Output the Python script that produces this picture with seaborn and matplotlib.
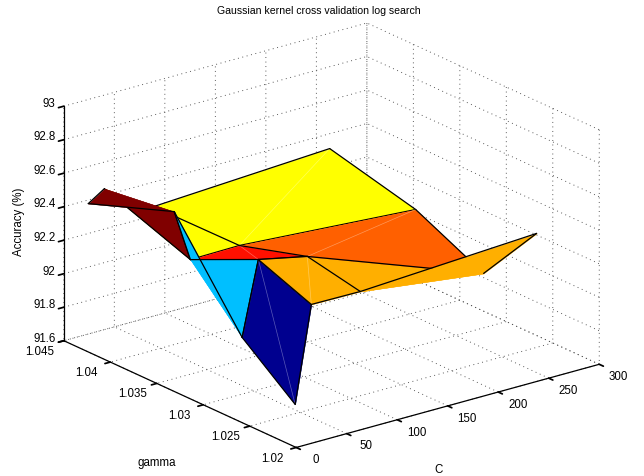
import numpy as np
import matplotlib
matplotlib.use("Agg")
import matplotlib.pyplot as plt
from matplotlib.colors import LinearSegmentedColormap
from matplotlib.transforms import Affine2D
from mpl_toolkits.mplot3d.art3d import Poly3DCollection
import seaborn as sns

sns.set_theme(style="white", rc={'text.color': 'black', 'axes.labelcolor': 'black',
                                 'xtick.color': 'black', 'ytick.color': 'black',
                                 'axes.edgecolor': 'black'})
plt.rcParams['font.family'] = ['Liberation Sans', 'DejaVu Sans']
plt.rcParams['grid.linestyle'] = (0, (1, 4))
plt.rcParams['grid.color'] = '#444444'
plt.rcParams['grid.linewidth'] = 0.65

C_values = [1, 17, 65.5, 240]
gamma_values = [1.02022, 1.02592, 1.03323, 1.04248]
acc_row0 = [91.850, 92.420, 92.417, 92.475]
acc_row1 = [92.104, 92.543, 92.481, 92.091]
acc_row2 = [92.669, 92.356, 92.360, 92.286]
acc_row3 = [92.481, 92.544, 92.356, 92.414]
C_ticks = [0, 50, 100, 150, 200, 250, 300]
gamma_ticks = [1.02, 1.025, 1.03, 1.035, 1.04, 1.045]
gamma_labels = ['1.02', '1.025', '1.03', '1.035', '1.04', '1.045']
acc_ticks = [91.6, 91.8, 92, 92.2, 92.4, 92.6, 92.8, 93]
acc_labels = ['91.6', '91.8', '92', '92.2', '92.4', '92.6', '92.8', '93']

Z = np.array([acc_row0, acc_row1, acc_row2, acc_row3])
jet = LinearSegmentedColormap.from_list('mjet', [
    (0, (0, 0, .5625)), (7/63, (0, 0, 1)), (23/63, (0, 1, 1)),
    (39/63, (1, 1, 0)), (55/63, (1, 0, 0)), (1, (.5, 0, 0))], N=64)


def col(i, j):
    return jet((Z[i, j] - Z.min()) / (Z.max() - Z.min()))


def P(ij):
    i, j = ij
    return (C_values[j], gamma_values[i], Z[i, j])


fig = plt.figure(figsize=(6.44, 4.77), dpi=100)
ax = fig.add_axes([0.0013, -0.1885, 1, 1.35], projection='3d', proj_type='ortho',
                  computed_zorder=False)
ax.view_init(elev=20.8, azim=-127.7)
ax.set_box_aspect((1, 0.992, 0.655), zoom=0.897)
ax.set_xlim(0, 300)
ax.set_ylim(1.02, 1.045)
ax.set_zlim(91.6, 93)
ax.set_xticks(C_ticks)
ax.set_yticks(gamma_ticks)
ax.set_yticklabels(gamma_labels)
ax.set_zticks(acc_ticks)
ax.set_zticklabels(acc_labels)
ax.tick_params(labelsize=8.3)
ax.tick_params(axis='x', pad=6, width=0.8)
ax.tick_params(axis='y', pad=8, width=0.8)
ax.tick_params(axis='z', pad=-6, width=0.8)
for t in ax.zaxis.get_ticklabels():
    t.set_ha('right')


def offset_tick_labels(axis, dx, dy):
    original = axis.get_major_ticks

    def patched(numticks=None):
        ticks = original(numticks)
        for t in ticks:
            t.label1.set_transform(ax.transData + Affine2D().translate(dx, dy))
        return ticks
    axis.get_major_ticks = patched


for axis in (ax.xaxis, ax.yaxis, ax.zaxis):
    for t in axis.get_ticklabels():
        t.set_va('center')
    axis.set_pane_color((1, 1, 1, 0))
    axis.pane.set_edgecolor((1, 1, 1, 0))
    axis.line.set_color('black')
    axis.line.set_linewidth(0.9)
    axis._axinfo['tick']['inward_factor'] = 0.22
    axis._axinfo['tick']['outward_factor'] = 0.0
offset_tick_labels(ax.xaxis, 6, 8)
offset_tick_labels(ax.yaxis, -4, 11)
offset_tick_labels(ax.zaxis, -4, 3)

tf = fig.transFigure
ax.text2D(439 / 644, 1 - 470 / 477, 'C', fontsize=8.3, ha='center', va='center', transform=tf)
ax.text2D(157 / 644, 1 - 463 / 477, 'gamma', fontsize=8.3, ha='center', va='center', transform=tf)
ax.text2D(19 / 644, 1 - 222 / 477, 'Accuracy (%)', fontsize=8.3, ha='center', va='center',
          rotation=90, transform=tf)
ax.set_title('Gaussian kernel cross validation log search', fontsize=7.6, y=0.92,
             x=(318.5 - 0.85) / 644)

# (color vertex, polygons to fill, black edges, pale seam)
layers = [
    ((2, 2), [[(2, 2), (2, 3), (3, 3), (3, 2)]], [((2, 2), (2, 3)), ((2, 3), (3, 3)), ((3, 3), (3, 2))], ((2, 2), (3, 3))),
    ((2, 1), [[(2, 1), (2, 2), (3, 2), (3, 1)]], [((2, 1), (2, 2)), ((2, 2), (3, 2))], None),
    ((0, 2), [[(0, 2), (1, 3), (1, 2)]], [], None),
    ((1, 2), [[(1, 2), (1, 3), (2, 3), (2, 2)]], [((1, 2), (1, 3)), ((1, 3), (2, 3))], ((1, 2), (2, 3))),
    ((1, 1), [[(1, 1), (1, 2), (2, 2), (2, 1)]], [((1, 1), (1, 2)), ((1, 2), (2, 2))], ((1, 1), (2, 2))),
    ((2, 0), [[(2, 0), (2, 1), (3, 1)]], [((2, 1), (3, 1)), ((2, 0), (2, 1))], None),
    ((2, 0), [[(2, 0), (3, 1), (3, 0)]], [((3, 0), (3, 1)), ((3, 0), (2, 0))], None),
    ((1, 0), [[(1, 0), (2, 0), (2, 1)], [(1, 0), (2, 1), (1, 1)]], [((1, 0), (2, 0)), ((1, 0), (1, 1)), ((1, 1), (2, 1)), ((2, 0), (2, 1))], None),
    ((0, 0), [[(0, 0), (0, 1), (1, 1), (1, 0)]], [((0, 0), (0, 1)), ((0, 1), (1, 1)), ((1, 1), (1, 0)), ((1, 0), (0, 0))], ((0, 0), (1, 1))),
    ((0, 1), [[(0, 1), (0, 2), (1, 2), (1, 1)]], [((0, 1), (0, 2)), ((0, 2), (1, 2)), ((1, 2), (1, 1)), ((1, 1), (0, 1))], ((0, 1), (1, 2))),
    ((0, 2), [[(0, 2), (0, 3), (1, 3)]], [((0, 2), (0, 3)), ((0, 3), (1, 3))], None),
]

z = 5
for cv, polys, edges, seam in layers:
    c = col(*cv)
    for poly in polys:
        pc = Poly3DCollection([[P(k) for k in poly]], facecolors=[c], edgecolors=[c],
                              linewidths=0.3, zorder=z)
        ax.add_collection3d(pc)
        z += 1
    if seam is not None:
        xs, ys, zs = zip(P(seam[0]), P(seam[1]))
        ax.plot(xs, ys, zs, color=(1, 1, 1, 0.35), lw=0.5, zorder=z)
        z += 1
    for a, b in edges:
        xs, ys, zs = zip(P(a), P(b))
        ax.plot(xs, ys, zs, color='black', lw=0.9, zorder=z, solid_capstyle='round')
    z += 1

fig.savefig('out.png', dpi=100)
